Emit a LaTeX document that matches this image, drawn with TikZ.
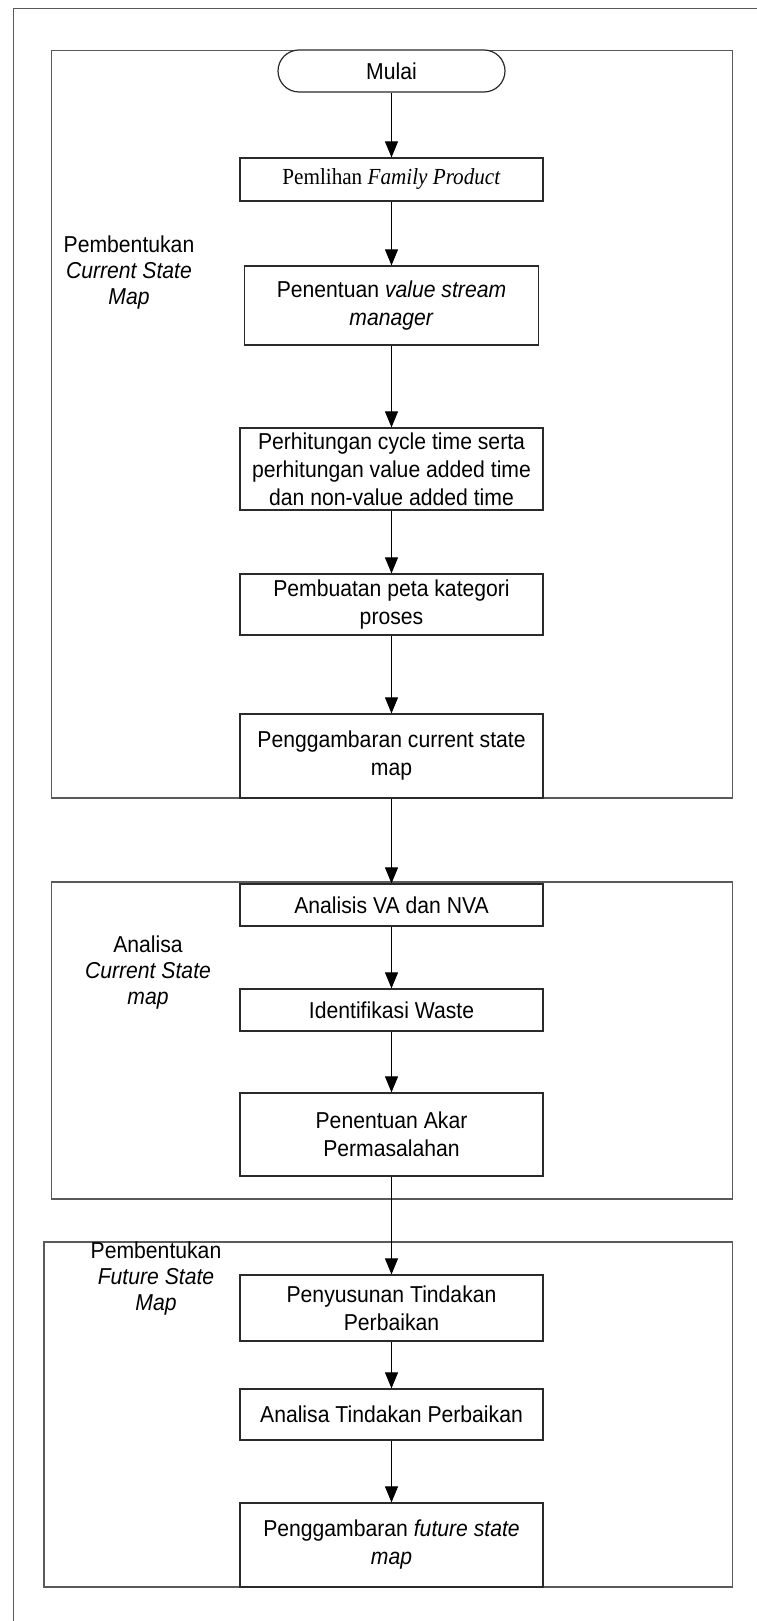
\documentclass[tikz,border=0pt]{standalone}
\usepackage{fontspec}
\setmainfont{Liberation Sans}[FakeStretch=0.92]
\newfontfamily\tnr{Liberation Serif}[FakeStretch=0.92]
\usetikzlibrary{arrows.meta}
\definecolor{framec}{HTML}{5A5A5A}
\definecolor{boxc}{HTML}{2A2A2A}
\newcommand\fsz{\fontsize{23}{28}\selectfont}
\newcommand\lsz{\fontsize{23}{26}\selectfont}
\begin{document}
\begin{tikzpicture}[x=1pt,y=-1pt,
  frame/.style={draw=framec, line width=1.4pt},
  pbox/.style={draw=boxc, fill=white, line width=1.2pt, minimum width=303pt, inner sep=2pt, align=center, font=\fsz},
  term/.style={pbox, rounded corners=21pt, minimum width=227pt, minimum height=42pt},
  lbl/.style={font=\lsz, inner sep=0pt, anchor=base},
  arr/.style={draw=black, line width=1pt, -{Triangle[length=16pt,width=13pt]}}]
\useasboundingbox (0,0) rectangle (757,1621);
\fill[white] (0,0) rectangle (757,1621);
% page border
\draw[frame] (757,8.3) -- (13.3,8.3) -- (13.3,1621);
% group frames
\draw[frame] (51.7,50.7) rectangle (732.5,798);
\draw[frame] (51.7,882) rectangle (732.5,1199);
\draw[frame] (44,1242) rectangle (732.5,1587);
% group labels
\node[lbl] (l1) at (129,252) {\begin{tabular}[t]{@{}c@{}}Pembentukan\\\textit{Current State}\\\textit{Map}\end{tabular}};
\node[lbl] (l2) at (148,952) {\begin{tabular}[t]{@{}c@{}}Analisa\\\textit{Current State}\\\textit{map}\end{tabular}};
\node[lbl] (l3) at (156,1258) {\begin{tabular}[t]{@{}c@{}}Pembentukan\\\textit{Future State}\\\textit{Map}\end{tabular}};
% steps
\node[term] (mulai) at (391.5,71) {Mulai};
\node[pbox, minimum height=43pt] (b1) at (391.5,179.5) {{\tnr Pemlihan \textit{Family Product}}};
\node[pbox, minimum width=294pt, minimum height=79pt] (b2) at (391.5,305.5) {Penentuan \textit{value stream}\\\textit{manager}};
\node[pbox, minimum height=82pt] (b3) at (391.5,469) {Perhitungan cycle time serta\\perhitungan value added time\\dan non-value added time};
\node[pbox, minimum height=61pt] (b4) at (391.5,604.5) {Pembuatan peta kategori\\proses};
\node[pbox, minimum height=84pt] (b5) at (391.5,756) {Penggambaran current state\\map};
\node[pbox, minimum height=42pt] (b6) at (391.5,905) {Analisis VA dan NVA};
\node[pbox, minimum height=42pt] (b7) at (391.5,1010) {Identifikasi Waste};
\node[pbox, minimum height=83pt] (b8) at (391.5,1134.5) {Penentuan Akar\\Permasalahan};
\node[pbox, minimum height=66pt] (b9) at (391.5,1308) {Penyusunan Tindakan\\Perbaikan};
\node[pbox, minimum height=51pt] (b10) at (391.5,1414.5) {Analisa Tindakan Perbaikan};
\node[pbox, minimum height=84pt] (b11) at (391.5,1545) {Penggambaran \textit{future state}\\\textit{map}};
% connectors
\draw[arr] (mulai) -- (b1);
\draw[arr] (b1) -- (b2);
\draw[arr] (b2) -- (b3);
\draw[arr] (b3) -- (b4);
\draw[arr] (b4) -- (b5);
\draw[arr] (b5) -- (b6);
\draw[arr] (b6) -- (b7);
\draw[arr] (b7) -- (b8);
\draw[arr] (b8) -- (b9);
\draw[arr] (b9) -- (b10);
\draw[arr] (b10) -- (b11);
\end{tikzpicture}
\end{document}
